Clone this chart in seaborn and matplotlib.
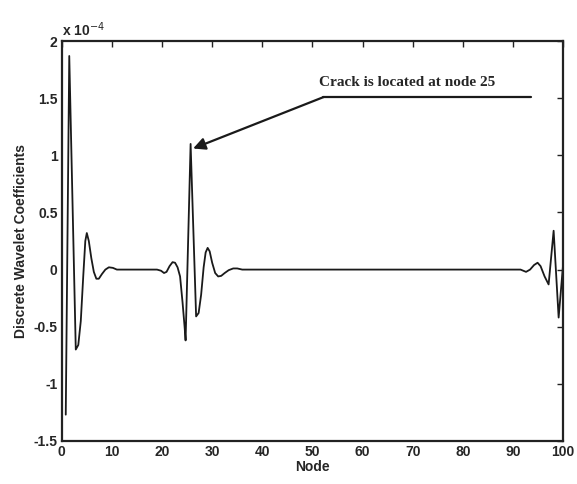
import matplotlib
matplotlib.use("Agg")
import matplotlib.pyplot as plt
import seaborn as sns
import pandas as pd

# Data (coefficients in units of 1e-4)
nodes = [0.8, 1.5, 2.8, 3.3, 3.8, 4.3, 4.7, 5.0, 5.4, 5.9, 6.4, 6.9, 7.4,
         8.0, 8.7, 9.4, 10.2, 11.0,
         19.0, 19.8, 20.4, 20.9, 21.5, 22.1, 22.6, 23.1, 23.6, 24.1, 24.5,
         24.7, 25.7, 26.8, 27.3, 27.8, 28.3, 28.7, 29.1, 29.5, 30.0, 30.6,
         31.2, 31.8, 32.5, 33.3, 34.2, 35.0, 36.0,
         91.5, 92.6, 93.4, 94.2, 94.9, 95.5, 96.3, 97.1, 98.1, 99.1, 100.0]
coeff = [-1.27, 1.87, -0.70, -0.66, -0.45, -0.05, 0.25, 0.32, 0.25, 0.10,
         -0.02, -0.08, -0.08, -0.04, 0.0, 0.02, 0.015, 0.0,
         0.0, -0.01, -0.03, -0.02, 0.03, 0.065, 0.06, 0.02, -0.06, -0.29,
         -0.50, -0.62, 1.10, -0.41, -0.38, -0.22, 0.02, 0.15, 0.19, 0.16,
         0.06, -0.03, -0.06, -0.055, -0.03, -0.005, 0.01, 0.01, 0.0,
         0.0, -0.02, 0.0, 0.04, 0.06, 0.03, -0.06, -0.13, 0.34, -0.42, 0.05]
x_ticks = [0, 10, 20, 30, 40, 50, 60, 70, 80, 90, 100]
y_ticks = [-1.5, -1.0, -0.5, 0.0, 0.5, 1.0, 1.5, 2.0]
y_tick_labels = ["-1.5", "-1", "-0.5", "0", "0.5", "1", "1.5", "2"]

df = pd.DataFrame({"Node": nodes, "Coeff": coeff})

sns.set_style("white")
plt.rcParams["font.family"] = ["Liberation Sans", "DejaVu Sans"]

fig = plt.figure(figsize=(5.77, 4.84), dpi=100)
ax = fig.add_axes([0.107, 0.089, 0.869, 0.826])

sns.lineplot(data=df, x="Node", y="Coeff", ax=ax, color="#1a1a1a",
             linewidth=1.3, sort=False)

ax.set_xlim(0, 100)
ax.set_ylim(-1.5, 2.0)
ax.set_xticks(x_ticks)
ax.set_xticklabels([str(t) for t in x_ticks], fontsize=10, fontweight="bold")
ax.set_yticks(y_ticks)
ax.set_yticklabels(y_tick_labels, fontsize=10, fontweight="bold")
ax.tick_params(direction="in", length=4, width=1, top=True, right=True,
               color="#222222", pad=3)
for s in ax.spines.values():
    s.set_visible(True)
    s.set_color("#222222")
    s.set_linewidth(1.6)

ax.set_xlabel("Node", fontsize=10, fontweight="bold", labelpad=1)
ax.set_ylabel("Discrete Wavelet Coefficients", fontsize=10, fontweight="bold",
              labelpad=4)

ax.text(0.0, 1.005, "x 10$^{-4}$", transform=ax.transAxes, fontsize=10,
        fontweight="bold", ha="left", va="bottom")

# annotation
ax.plot([52.2, 93.6], [1.51, 1.51], color="#1a1a1a", linewidth=1.6)
ax.annotate("", xy=(26.2, 1.06), xytext=(52.2, 1.51),
            arrowprops=dict(arrowstyle="-|>", color="#1a1a1a", lw=1.6,
                            mutation_scale=18, shrinkA=0, shrinkB=0))
ax.text(51.4, 1.635, "Crack is located at node 25", fontsize=11,
        fontweight="bold", family=["Liberation Serif"], ha="left",
        va="center")

fig.savefig("out.png", dpi=100)
